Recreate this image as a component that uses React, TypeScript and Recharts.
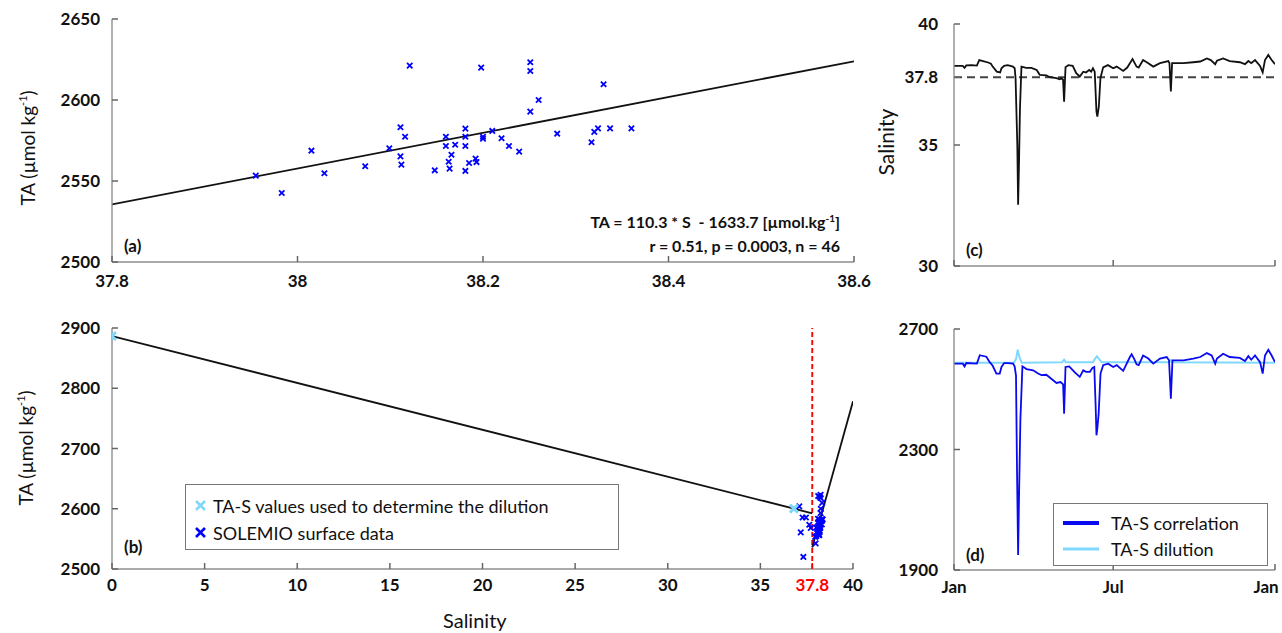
import React from 'react';
import { ComposedChart, LineChart, Line, Scatter, XAxis, YAxis, ReferenceLine, Legend } from 'recharts';

const FONT = 'Lato, "Open Sans", sans-serif';

// ---------- Panel (a) / (b) data ----------
const solemioS = [37.955, 37.983, 38.015, 38.029, 38.073, 38.099, 38.111, 38.116, 38.111, 38.112, 38.121, 38.148, 38.16, 38.16, 38.163, 38.164, 38.166, 38.17, 38.181, 38.181, 38.181, 38.181, 38.185, 38.192, 38.193, 38.198, 38.2, 38.2, 38.21, 38.251, 38.251, 38.26, 38.251, 38.22, 38.228, 38.239, 38.28, 38.317, 38.32, 38.324, 38.33, 38.337, 38.36];
const solemioTA = [2553.3, 2542.6, 2568.7, 2554.8, 2559.1, 2570.2, 2583.2, 2577.3, 2565.2, 2560.1, 2621.2, 2556.6, 2577.3, 2571.6, 2561.9, 2557.6, 2566.2, 2572.4, 2582.3, 2577.3, 2571.6, 2556.2, 2561.1, 2563.8, 2561.7, 2620.0, 2577.3, 2576.1, 2580.9, 2623.3, 2617.9, 2600.0, 2592.8, 2576.4, 2571.6, 2568.1, 2579.2, 2573.9, 2580.3, 2582.5, 2609.7, 2582.5, 2582.5];
// extra low-salinity SOLEMIO points visible only in panel (b)
const extraS = [37.1, 37.28, 37.46, 37.64, 37.18, 37.32, 37.72];
const extraTA = [2604, 2585.5, 2585.5, 2573.4, 2560.7, 2520, 2568];
// TA-S values used to determine the dilution
const dilPtsS = [0, 36.81];
const dilPtsTA = [2886.7, 2600.3];
// regression line TA = 110.3*S - 1633.7 endpoints
const regA_S = [37.8, 38.6];
const regA_TA = [2535.6, 2623.9];
const regB_S = [37.8, 40];
const regB_TA = [2535.6, 2778.3];
// dilution line endpoints
const dilLineS = [0, 37.8];
const dilLineTA = [2886.7, 2592.5];

// ---------- Panel (c) / (d) data (day of year) ----------
const salDays = [0, 10, 12, 14, 20, 26, 28.7, 33, 38.8, 42, 44, 48.6, 52.5, 54, 57, 61, 67, 69, 70, 72, 72.9, 74, 75, 76.7, 82, 88, 94, 97.5, 105, 109, 116.5, 120, 122, 124, 125.2, 126.8, 130, 135, 139, 143, 147, 150, 153.7, 156, 158, 160, 162, 163, 164.7, 166.5, 169.6, 175, 181, 185, 192.4, 197, 200, 203, 207.6, 210, 215, 220.9, 226.6, 234.2, 243.7, 245, 246.6, 248, 261, 272, 280, 287.5, 292, 297, 299, 306, 313.5, 325, 330.9, 334.7, 338, 342.3, 348, 351, 353.6, 357.4, 361.2, 365];
const salValues = [38.27, 38.27, 38.19, 38.29, 38.3, 38.28, 38.51, 38.47, 38.41, 38.36, 38.24, 38.03, 38.0, 38.17, 38.27, 38.3, 38.24, 38.17, 37.76, 35.0, 32.53, 34.39, 36.5, 38.24, 38.19, 38.19, 38.1, 37.9, 37.88, 37.8, 37.76, 37.72, 37.76, 37.7, 36.79, 38.21, 38.3, 38.27, 37.97, 37.83, 38.03, 38.0, 38.1, 38.03, 38.17, 38.03, 36.38, 36.17, 36.59, 37.76, 38.21, 38.3, 38.17, 38.24, 38.06, 38.2, 38.38, 38.55, 38.24, 38.2, 38.51, 38.38, 38.24, 38.38, 38.47, 38.38, 37.21, 38.38, 38.38, 38.42, 38.45, 38.58, 38.51, 38.34, 38.48, 38.58, 38.47, 38.42, 38.34, 38.47, 38.38, 38.51, 38.27, 38.0, 38.51, 38.72, 38.51, 38.34];

const corrDays = [0, 10, 12, 14, 26, 29.3, 36.8, 40.6, 44, 48.2, 52, 54, 57, 61.5, 67.2, 69, 70.5, 71.7, 72.9, 74, 75.5, 77.8, 82.4, 90, 95.6, 99.4, 105, 112.7, 116.5, 121, 124.1, 125.2, 126.8, 131, 137.4, 143, 147, 150, 154.5, 157.5, 159.5, 161, 162, 163, 164.5, 166.6, 169.6, 175.3, 181, 185, 192.4, 200, 202, 205, 207.6, 210, 215, 220.9, 226.6, 234.2, 241.8, 244.5, 246.6, 248.4, 261, 272, 280, 287.5, 293, 297, 299, 306, 313.5, 325, 330.9, 334.7, 338, 342.3, 348, 351, 353.6, 357.4, 361.2, 365];
const corrValues = [2585, 2585, 2576, 2587, 2585, 2613, 2608, 2590, 2578, 2552, 2552, 2574, 2587, 2587, 2585, 2575, 2545, 2220, 1950, 2154, 2400, 2576, 2567, 2563, 2552, 2547, 2548, 2530, 2521, 2524, 2516, 2419, 2574, 2576, 2556, 2541, 2563, 2558, 2558, 2571, 2574, 2450, 2347, 2370, 2420, 2552, 2580, 2585, 2574, 2580, 2561, 2607, 2616, 2600, 2583, 2580, 2612, 2602, 2585, 2602, 2607, 2596, 2469, 2596, 2596, 2602, 2607, 2620, 2612, 2585, 2602, 2618, 2607, 2604, 2594, 2610, 2598, 2612, 2590, 2552, 2612, 2631, 2612, 2590];

const dilDays = [0, 68, 70.5, 72.5, 74.5, 77, 123, 125.2, 127, 158, 160, 162.5, 165, 168, 245, 246.6, 248.4, 365];
const dilValues = [2588, 2588, 2600, 2631, 2605, 2588, 2590, 2598, 2590, 2590, 2600, 2609, 2600, 2590, 2590, 2596, 2590, 2588];

// ---------- ticks ----------
const ticksA_x = [37.8, 38, 38.2, 38.4, 38.6];
const ticksA_y = [2500, 2550, 2600, 2650];
const ticksB_x = [0, 5, 10, 15, 20, 25, 30, 35, 37.8, 40];
const ticksB_y = [2500, 2600, 2700, 2800, 2900];
const ticksC_y = [30, 35, 37.8, 40];
const ticksD_y = [1900, 2300, 2700];
const monthTicks = [0, 181, 365];
const monthLabels = ['Jan', 'Jul', 'Jan'];

// ---------- build tables ----------
const zipST = (s: number[], t: number[]) => s.map((v, i) => ({ s: v, ta: t[i] }));
const solemioA = zipST(solemioS, solemioTA);
const solemioB = zipST([...solemioS, ...extraS], [...solemioTA, ...extraTA]);
const dilPts = zipST(dilPtsS, dilPtsTA);
const regA = zipST(regA_S, regA_TA);
const regB = zipST(regB_S, regB_TA);
const dilLine = zipST(dilLineS, dilLineTA);
const salData = salDays.map((d, i) => ({ day: d, v: salValues[i] }));
const corrData = corrDays.map((d, i) => ({ day: d, v: corrValues[i] }));
const dilData = dilDays.map((d, i) => ({ day: d, v: dilValues[i] }));

const GRAY = '#8e8e8e';
const TICKC = '#666';
const BLUE = '#0000ff';
const LIGHT = '#80d8ff';
const axisLineP = { stroke: GRAY, strokeWidth: 1.4 };
const tickFont = { fontSize: 17, fontWeight: 700, fill: '#111', fontFamily: FONT };
const TL = 6; // inward tick length

type Side = 'bottom' | 'left' | 'top' | 'right';
// Custom tick: draws an inward tick mark and (optionally) the label.
const makeTick = (side: Side, margin: number, opts: { label?: boolean; labels?: string[]; red?: number; lastShift?: number } = {}) =>
  (props: any) => {
    const { x, y, payload, index, visibleTicksCount } = props;
    const v = payload.value;
    let line: any = null;
    let txt: any = null;
    const text = opts.labels ? opts.labels[index] ?? '' : String(v);
    const isRed = opts.red !== undefined && v === opts.red;
    const fill = isRed ? '#ff0000' : '#111';
    if (side === 'bottom') {
      const ay = y - margin;
      line = <path d={`M${x},${ay}V${ay - TL}`} stroke={isRed ? '#ff0000' : TICKC} strokeWidth={1.5} fill="none" />;
      if (opts.label) {
        const isLast = index === (visibleTicksCount ?? 0) - 1;
        const shift = isLast && opts.lastShift ? opts.lastShift : 0;
        txt = (
          <text x={x + shift} y={y} dy="0.71em" textAnchor="middle" {...tickFont} fill={fill}>
            {text}
          </text>
        );
      }
    } else if (side === 'top') {
      const ay = y + margin;
      line = <path d={`M${x},${ay}V${ay + TL}`} stroke={TICKC} strokeWidth={1.5} fill="none" />;
    } else if (side === 'left') {
      const ax = x + margin;
      line = <path d={`M${ax},${y}H${ax + TL}`} stroke={TICKC} strokeWidth={1.5} fill="none" />;
      if (opts.label) {
        txt = (
          <text x={x} y={y} dy="0.355em" textAnchor="end" {...tickFont} fill={fill}>
            {text}
          </text>
        );
      }
    } else {
      const ax = x - margin;
      line = <path d={`M${ax},${y}H${ax - TL}`} stroke={TICKC} strokeWidth={1.5} fill="none" />;
    }
    return (
      <g>
        {line}
        {txt}
      </g>
    );
  };

const cross = (color: string, r: number, w: number) => (props: any) => {
  const { cx, cy } = props;
  if (cx == null || cy == null) return <g />;
  return (
    <path
      d={`M${cx - r},${cy - r}L${cx + r},${cy + r}M${cx - r},${cy + r}L${cx + r},${cy - r}`}
      stroke={color}
      strokeWidth={w}
      fill="none"
    />
  );
};

const Txt = ({ x, y, children, style }: any) => (
  <div style={{ position: 'absolute', left: x, top: y, whiteSpace: 'nowrap', fontFamily: FONT, color: '#111', lineHeight: 1, ...style }}>
    {children}
  </div>
);

const VLabel = ({ cx, cy, children, size = 19 }: any) => (
  <div
    style={{
      position: 'absolute',
      left: cx,
      top: cy,
      transform: 'translate(-50%, -50%) rotate(-90deg)',
      whiteSpace: 'nowrap',
      fontFamily: FONT,
      fontSize: size,
      color: '#111',
      lineHeight: 1,
    }}
  >
    {children}
  </div>
);

const LegendB = () => (
  <div style={{ width: 434, height: 66, border: '1.3px solid #777', background: '#fff', boxSizing: 'border-box', fontFamily: FONT, fontSize: 18, color: '#111', padding: '7px 0 0 8px' }}>
    <div style={{ display: 'flex', alignItems: 'center', height: 27 }}>
      <svg width={14} height={14} style={{ marginRight: 5 }}>
        <path d="M2,2L11,11M2,11L11,2" stroke={LIGHT} strokeWidth={2.6} />
      </svg>
      TA-S values used to determine the dilution
    </div>
    <div style={{ display: 'flex', alignItems: 'center', height: 27 }}>
      <svg width={14} height={14} style={{ marginRight: 5 }}>
        <path d="M2,2L11,11M2,11L11,2" stroke={BLUE} strokeWidth={2.6} />
      </svg>
      SOLEMIO surface data
    </div>
  </div>
);

const LegendD = () => (
  <div style={{ width: 215, height: 63, border: '1.3px solid #777', background: '#fff', boxSizing: 'border-box', fontFamily: FONT, fontSize: 18, color: '#111', padding: '6px 0 0 9px' }}>
    <div style={{ display: 'flex', alignItems: 'center', height: 26 }}>
      <svg width={36} height={10} style={{ marginRight: 12 }}>
        <line x1={0} y1={5} x2={36} y2={5} stroke="#0a0af0" strokeWidth={4} />
      </svg>
      TA-S correlation
    </div>
    <div style={{ display: 'flex', alignItems: 'center', height: 26 }}>
      <svg width={36} height={10} style={{ marginRight: 12 }}>
        <line x1={0} y1={5} x2={36} y2={5} stroke={LIGHT} strokeWidth={3} />
      </svg>
      TA-S dilution
    </div>
  </div>
);

const frameAxes = (dk: string, dkY: string | undefined, xDomain: number[], xTicks: number[], yDomain: number[], yTicks: number[]) => [
  <XAxis key="xt" xAxisId="top" orientation="top" type="number" dataKey={dk} domain={xDomain} ticks={xTicks} interval={0} height={0} tickSize={0} tickMargin={0} tickLine={false} tick={makeTick('top', 0)} axisLine={axisLineP} allowDataOverflow />,
  <YAxis key="yr" yAxisId="right" orientation="right" type="number" dataKey={dkY} domain={yDomain} ticks={yTicks} interval={0} width={0} tickSize={0} tickMargin={0} tickLine={false} tick={makeTick('right', 0)} axisLine={axisLineP} allowDataOverflow />,
];

export default function App() {
  return (
    <div style={{ position: 'absolute', left: 0, top: 0, width: 1282, height: 633, background: '#fff', overflow: 'hidden' }}>
      {/* Panel (a) */}
      <div style={{ position: 'absolute', left: 0, top: 0 }}>
        <ComposedChart width={880} height={300} margin={{ top: 19, right: 26, bottom: 8, left: 52 }}>
          <XAxis type="number" dataKey="s" domain={[37.8, 38.6]} ticks={ticksA_x} interval={0} height={30} axisLine={axisLineP} tickLine={false} tickSize={0} tickMargin={13} tick={makeTick('bottom', 13, { label: true })} allowDataOverflow />
          <YAxis type="number" dataKey="ta" domain={[2500, 2650]} ticks={ticksA_y} interval={0} width={60} axisLine={axisLineP} tickLine={false} tickSize={0} tickMargin={12} tick={makeTick('left', 12, { label: true })} allowDataOverflow />
          {frameAxes('s', 'ta', [37.8, 38.6], ticksA_x, [2500, 2650], ticksA_y)}
          <Line data={regA} dataKey="ta" stroke="#111" strokeWidth={1.8} dot={false} isAnimationActive={false} />
          <Scatter data={solemioA} dataKey="ta" shape={cross(BLUE, 2.7, 1.8)} isAnimationActive={false} />
        </ComposedChart>
      </div>

      {/* Panel (b) */}
      <div style={{ position: 'absolute', left: 0, top: 300 }}>
        <ComposedChart width={880} height={333} margin={{ top: 28, right: 27, bottom: 34, left: 52 }}>
          <XAxis type="number" dataKey="s" domain={[0, 40]} ticks={ticksB_x} interval={0} height={30} axisLine={axisLineP} tickLine={false} tickSize={0} tickMargin={10} tick={makeTick('bottom', 10, { label: true, red: 37.8 })} allowDataOverflow />
          <YAxis type="number" dataKey="ta" domain={[2500, 2900]} ticks={ticksB_y} interval={0} width={60} axisLine={axisLineP} tickLine={false} tickSize={0} tickMargin={12} tick={makeTick('left', 12, { label: true })} allowDataOverflow />
          {frameAxes('s', 'ta', [0, 40], ticksB_x, [2500, 2900], ticksB_y)}
          <ReferenceLine x={37.8} stroke="#ff0000" strokeWidth={1.9} strokeDasharray="5 3" />
          <Line data={dilLine} dataKey="ta" stroke="#111" strokeWidth={1.8} dot={false} isAnimationActive={false} />
          <Line data={regB} dataKey="ta" stroke="#111" strokeWidth={1.8} dot={false} isAnimationActive={false} />
          <Scatter data={solemioB} dataKey="ta" shape={cross(BLUE, 2.7, 1.8)} isAnimationActive={false} />
          <Scatter data={dilPts} dataKey="ta" shape={cross(LIGHT, 4, 3)} isAnimationActive={false} />
          <Legend content={() => <LegendB />} layout="horizontal" verticalAlign="middle" align="center" wrapperStyle={{ position: 'absolute', left: 185, top: 184, width: 434, height: 66 }} />
        </ComposedChart>
      </div>

      {/* Panel (c) */}
      <div style={{ position: 'absolute', left: 880, top: 0 }}>
        <LineChart width={402} height={300} margin={{ top: 24, right: 7, bottom: 4, left: 14 }}>
          <XAxis type="number" dataKey="day" domain={[0, 365]} ticks={monthTicks} interval={0} height={30} axisLine={axisLineP} tickLine={false} tickSize={0} tickMargin={12} tick={makeTick('bottom', 12)} allowDataOverflow />
          <YAxis type="number" domain={[30, 40]} ticks={ticksC_y} interval={0} width={60} axisLine={axisLineP} tickLine={false} tickSize={0} tickMargin={16} tick={makeTick('left', 16, { label: true })} allowDataOverflow />
          {frameAxes('day', undefined, [0, 365], monthTicks, [30, 40], ticksC_y)}
          <ReferenceLine y={37.8} stroke="#444" strokeWidth={2} strokeDasharray="8 5" />
          <Line data={salData} dataKey="v" stroke="#111" strokeWidth={1.8} dot={false} type="linear" isAnimationActive={false} />
        </LineChart>
      </div>

      {/* Panel (d) */}
      <div style={{ position: 'absolute', left: 880, top: 300 }}>
        <LineChart width={402} height={333} margin={{ top: 29, right: 7, bottom: 33, left: 14 }}>
          <XAxis type="number" dataKey="day" domain={[0, 365]} ticks={monthTicks} interval={0} height={30} axisLine={axisLineP} tickLine={false} tickSize={0} tickMargin={11} tick={makeTick('bottom', 11, { label: true, labels: monthLabels, lastShift: -9 })} allowDataOverflow />
          <YAxis type="number" domain={[1900, 2700]} ticks={ticksD_y} interval={0} width={60} axisLine={axisLineP} tickLine={false} tickSize={0} tickMargin={16} tick={makeTick('left', 16, { label: true })} allowDataOverflow />
          {frameAxes('day', undefined, [0, 365], monthTicks, [1900, 2700], ticksD_y)}
          <Line data={dilData} dataKey="v" stroke={LIGHT} strokeWidth={2} dot={false} type="linear" isAnimationActive={false} />
          <Line data={corrData} dataKey="v" stroke="#0a0af0" strokeWidth={1.8} dot={false} type="linear" isAnimationActive={false} />
          <Legend content={() => <LegendD />} layout="horizontal" verticalAlign="middle" align="center" wrapperStyle={{ position: 'absolute', left: 173, top: 203, width: 215, height: 63 }} />
        </LineChart>
      </div>

      {/* Text overlays */}
      <VLabel cx={27} cy={148}>TA (µmol kg<sup style={{ fontSize: 11 }}>-1</sup>)</VLabel>
      <VLabel cx={25} cy={448}>TA (µmol kg<sup style={{ fontSize: 11 }}>-1</sup>)</VLabel>
      <VLabel cx={885} cy={142} size={21}>Salinity</VLabel>
      <Txt x={443} y={610} style={{ fontSize: 20 }}>Salinity</Txt>
      <Txt x={840} y={213} style={{ fontSize: 16, fontWeight: 700, transform: 'translateX(-100%)' }}>
        TA = 110.3 * S &nbsp;- 1633.7 [µmol.kg<sup style={{ fontSize: 10 }}>-1</sup>]
      </Txt>
      <Txt x={840} y={238} style={{ fontSize: 16, fontWeight: 700, transform: 'translateX(-100%)' }}>
        r = 0.51, p = 0.0003, n = 46
      </Txt>
      <Txt x={124} y={237} style={{ fontSize: 17, fontWeight: 700 }}>(a)</Txt>
      <Txt x={124} y={538} style={{ fontSize: 17, fontWeight: 700 }}>(b)</Txt>
      <Txt x={966} y={241} style={{ fontSize: 17, fontWeight: 700 }}>(c)</Txt>
      <Txt x={966} y={546} style={{ fontSize: 17, fontWeight: 700 }}>(d)</Txt>
    </div>
  );
}
